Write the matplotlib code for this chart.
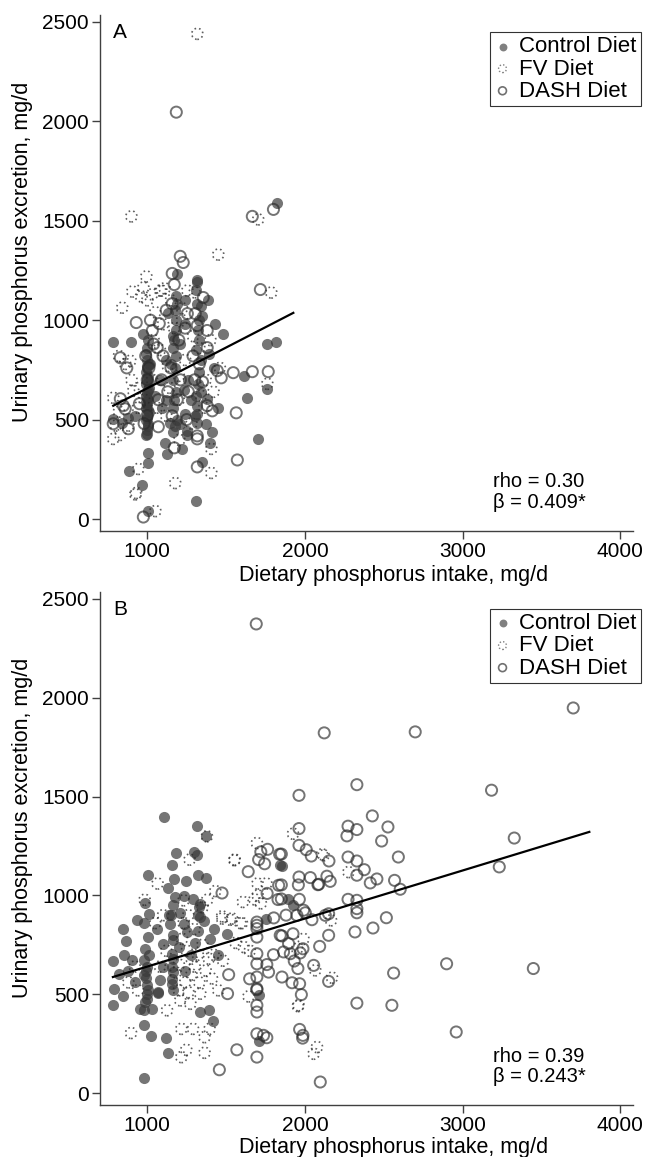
import numpy as np
import matplotlib
matplotlib.use("Agg")
import matplotlib.pyplot as plt

plt.rcParams["font.family"] = ["Liberation Sans", "DejaVu Sans"]

# ── Panel A data (mg/d) ──────────────────────────────────────────────────────
ctrl_a = [
    (784, 892), (899, 892), (1825, 1588), (1190, 1230), (1317, 1200), (1317, 1190),
    (1241, 1099), (1317, 1083), (1387, 1099), (1133, 1038), (1431, 983), (1482, 932),
    (975, 932), (1165, 922), (1241, 983), (1761, 882), (1818, 892), (1615, 721),
    (1761, 655), (1634, 610), (1704, 403), (1349, 287), (1311, 91), (886, 242),
    (968, 171), (1006, 40), (1006, 282), (1006, 333), (1127, 328), (1222, 353),
    (1114, 383), (1412, 438), (1254, 443), (1317, 484), (1317, 529), (1380, 605),
    (1317, 570), (1209, 479), (1146, 484), (1241, 529), (784, 504), (880, 509),
    (841, 484), (995, 420), (1000, 450), (1005, 480), (990, 500), (1000, 520),
    (1010, 540), (995, 560), (1000, 580), (1005, 600), (990, 620), (1000, 640),
    (1010, 660), (995, 680), (1000, 700), (1005, 720), (990, 740), (1000, 760),
    (1010, 780), (1000, 800), (995, 830), (1000, 860), (1005, 900), (1008, 690),
    (992, 590), (1160, 560), (1170, 600), (1180, 640), (1165, 700), (1175, 760),
    (1180, 820), (1165, 860), (1170, 900), (1185, 950), (1175, 1050), (1180, 1120),
    (1160, 440), (1175, 470), (1190, 500), (1310, 620), (1320, 680), (1330, 740),
    (1340, 800), (1310, 850), (1330, 900), (1320, 950), (1350, 1020), (1340, 1070),
    (1050, 620), (1080, 700), (1230, 650), (1260, 700), (1390, 830), (1420, 760),
    (1280, 600), (1095, 560), (1370, 480), (1450, 560), (1020, 780), (1120, 800),
    (1210, 880), (1120, 600), (920, 520), (1400, 380), (1250, 420),
    (1000, 430), (1004, 470), (998, 510), (1002, 550), (996, 610), (1003, 650),
    (999, 710), (1001, 770), (1180, 1000), (1190, 1080), (1330, 1000), (1310, 1150),
    (1150, 780), (1340, 640), (1300, 520),
]
fv_a = [
    (1317, 2440), (899, 1522), (1703, 1507), (1450, 1330), (994, 1220), (905, 1144),
    (975, 1164), (1089, 1149), (1786, 1139), (1082, 1149), (841, 1063), (1254, 1149),
    (1761, 680), (1406, 353), (1406, 232), (1177, 181), (930, 131), (943, 252),
    (1051, 40), (1203, 398), (784, 610), (784, 403), (829, 423), (911, 645),
    (892, 796), (960, 1120), (1000, 1100), (1030, 1130), (1110, 1160), (1150, 1100),
    (1220, 1060), (1300, 1140), (820, 820), (860, 780), (900, 700), (950, 660),
    (1040, 900), (1080, 850), (1130, 770), (1200, 720), (1240, 800), (1290, 920),
    (1330, 860), (1370, 700), (1420, 640), (1360, 560), (1280, 480), (1120, 520),
    (1060, 560), (980, 600), (940, 560), (880, 470), (820, 540), (800, 470),
    (1030, 700), (1170, 960), (1220, 1000), (1100, 980), (1050, 1040), (1340, 620),
    (1200, 600), (1140, 660), (1400, 900), (1460, 760), (924, 124),
]
dash_a = [
    (1184, 2046), (1666, 1522), (1800, 1557), (1209, 1321), (1228, 1290), (1158, 1235),
    (1171, 1179), (1717, 1154), (1355, 1114), (1158, 1083), (1254, 1033), (1304, 1033),
    (930, 988), (1076, 983), (1032, 948), (1380, 948), (1317, 973), (829, 811),
    (1063, 862), (1380, 862), (1444, 746), (1469, 710), (1545, 736), (1666, 741),
    (1767, 741), (1564, 534), (1571, 297), (1317, 262), (975, 10), (1171, 358),
    (1317, 403), (1317, 418), (1412, 544), (1380, 570), (1158, 519), (1070, 464),
    (784, 479), (848, 570), (829, 605), (880, 454), (860, 554), (1000, 700),
    (1010, 760), (990, 820), (1040, 880), (1100, 820), (1150, 760), (1210, 700),
    (1260, 640), (1300, 700), (1130, 640), (1070, 600), (980, 480), (1000, 520),
    (1200, 900), (1240, 960), (1290, 820), (1330, 780), (1090, 700), (1190, 600),
    (1250, 500), (1020, 1000), (1120, 1050), (1350, 690), (870, 760), (950, 580),
]

# ── Panel B data (mg/d) ──────────────────────────────────────────────────────
ctrl_b = [
    (1104, 1397), (1315, 1350), (1374, 1300), (1184, 1215), (1294, 1220), (1315, 1206),
    (1156, 1156), (1002, 1102), (1171, 1085), (1247, 1071), (1321, 1102), (1374, 1090),
    (1131, 1037), (1178, 992), (1230, 995), (983, 962), (1336, 955), (1135, 903),
    (1008, 904), (935, 874), (977, 860), (1332, 891), (1420, 832), (1230, 854),
    (1146, 857), (845, 828), (867, 769), (1002, 789), (1163, 801), (1163, 773),
    (1099, 756), (1252, 815), (1505, 806), (782, 668), (850, 697), (903, 672),
    (977, 672), (987, 730), (1156, 705), (1156, 638), (1156, 578), (1156, 553),
    (1078, 570), (1068, 511), (998, 545), (998, 477), (977, 596), (791, 528),
    (782, 447), (845, 489), (956, 427), (1030, 427), (1336, 410), (1389, 422),
    (1414, 364), (977, 419), (977, 346), (1023, 287), (1119, 278), (1131, 204),
    (977, 77), (1065, 506), (1710, 494), (1710, 263), (1854, 1149), (1894, 983),
    (1924, 950), (1843, 1152), (1755, 883), (1000, 640), (990, 620), (1010, 700),
    (1000, 500), (985, 460), (1160, 520), (1150, 900), (1160, 950), (1240, 620),
    (1280, 700), (1300, 760), (1320, 820), (1290, 980), (1200, 740), (1060, 830),
    (920, 560), (880, 620), (1100, 640), (1210, 910), (1360, 870), (1400, 780),
    (1450, 700), (820, 600), (990, 580), (1005, 520), (1160, 680), (1165, 610),
    (1320, 900), (1330, 940),
]
fv_b = [
    (1378, 1299), (1268, 1181), (1554, 1181), (1065, 1060), (983, 978), (1230, 975),
    (1380, 978), (1606, 967), (1474, 894), (1537, 883), (1590, 860), (1611, 739),
    (1642, 489), (1125, 419), (1209, 469), (1273, 452), (1336, 503), (897, 304),
    (1216, 325), (1290, 325), (1363, 283), (1395, 325), (1247, 219), (1216, 182),
    (1363, 204), (1955, 440), (2055, 199), (2076, 233), (2108, 1208), (2276, 1118),
    (2165, 874), (2065, 621), (2171, 584), (1959, 444), (1695, 1265), (1552, 1178),
    (1755, 1060), (1699, 1060), (1431, 1022), (1474, 883), (1526, 877), (1600, 860),
    (1924, 1312), (2118, 1203), (1220, 780), (1250, 720), (1280, 680), (1300, 640),
    (1320, 700), (1350, 750), (1280, 600), (1240, 560), (1200, 520), (1260, 510),
    (1330, 560), (1370, 620), (1390, 680), (1420, 700), (1200, 650), (1180, 610),
    (1230, 860), (1260, 900), (1300, 830), (1350, 940), (1120, 720), (1100, 900),
    (1050, 860), (920, 640), (880, 560), (940, 520), (1080, 640), (1410, 580),
    (1450, 520), (1480, 670), (1560, 760), (1650, 720), (1700, 1000), (1720, 960),
    (1680, 980), (1950, 730), (1990, 780),
]
dash_b = [
    (1691, 2373), (2122, 1822), (2699, 1827), (3701, 1948), (2329, 1560), (1962, 1506),
    (3183, 1532), (2427, 1402), (1962, 1338), (2273, 1350), (2329, 1333), (2526, 1346),
    (2266, 1301), (2486, 1275), (3327, 1290), (1962, 1253), (2008, 1231), (2040, 1199),
    (1850, 1209), (2152, 1174), (2592, 1194), (2273, 1194), (2329, 1174), (2376, 1130),
    (2329, 1102), (2456, 1083), (2414, 1063), (2568, 1076), (2604, 1031), (3232, 1144),
    (1962, 1093), (2034, 1090), (2082, 1054), (2139, 1097), (2160, 1071), (1958, 1053),
    (1850, 1053), (1850, 982), (1964, 980), (2273, 980), (2329, 975), (2329, 933),
    (2329, 912), (1991, 925), (2002, 912), (1949, 899), (2044, 877), (2129, 899),
    (2150, 907), (2516, 887), (2431, 835), (2317, 815), (2150, 798), (1924, 806),
    (1854, 795), (2093, 742), (1896, 756), (1864, 714), (1907, 705), (1970, 709),
    (1987, 730), (1932, 668), (1955, 630), (1854, 587), (1918, 558), (1966, 553),
    (1977, 498), (2055, 646), (2150, 565), (2562, 607), (2898, 654), (3448, 630),
    (2329, 455), (2551, 444), (1966, 322), (2959, 309), (1987, 292), (1509, 503),
    (1695, 523), (1695, 444), (1695, 410), (1985, 278), (2097, 56), (1695, 300),
    (1737, 292), (1758, 280), (1695, 182), (1568, 219), (1457, 118), (1474, 1012),
    (1695, 849), (1695, 789), (1695, 705), (1695, 654), (1695, 587), (1695, 528),
    (1758, 650), (1769, 612), (1649, 578), (1516, 599), (1763, 1233), (1839, 1208),
    (1706, 1181), (1744, 1160), (1833, 1051), (1829, 979), (1802, 886), (1695, 865),
    (1695, 832), (1843, 798), (2087, 1056), (1640, 1120), (1720, 1220), (1760, 1010),
    (1800, 700), (1880, 900),
]

# regression fits: intercept, slope, x-range
fit_a = (249, 0.409, 784, 1926)
fit_b = (397, 0.243, 782, 3803)

panel_labels = ["A", "B"]
stats_text = [("rho = 0.30", "β = 0.409*"), ("rho = 0.39", "β = 0.243*")]
legend_labels = ["Control Diet", "FV Diet", "DASH Diet"]
x_ticks = [1000, 2000, 3000, 4000]
y_ticks = [0, 500, 1000, 1500, 2000, 2500]

CTRL_COLOR = "#3a3a3a"
OPEN_COLOR = "#2a2a2a"
MS = 64
DOTS = (0, (1.0, 1.8))


def draw_panel(ax, ctrl, fv, dash, fit, label, stats, xlab_y):
    c = np.array(ctrl); f = np.array(fv); d = np.array(dash)
    ax.scatter(c[:, 0], c[:, 1], s=MS, color=CTRL_COLOR, alpha=0.7, linewidths=0, zorder=2)
    ax.scatter(f[:, 0], f[:, 1], s=MS, facecolors="none", edgecolors=OPEN_COLOR, alpha=0.75,
               linewidths=1.2, linestyles=DOTS, zorder=3)
    ax.scatter(d[:, 0], d[:, 1], s=MS, facecolors="none", edgecolors=OPEN_COLOR, alpha=0.65,
               linewidths=1.4, zorder=4)

    b0, b1, x0, x1 = fit
    xs = np.array([x0, x1])
    ax.plot(xs, b0 + b1 * xs, color="black", lw=1.6, zorder=5)

    ax.set_xlim(700, 4080)
    ax.set_ylim(-60, 2535)
    ax.set_xticks(x_ticks)
    ax.set_yticks(y_ticks)
    for s in ["top", "right"]:
        ax.spines[s].set_visible(False)
    for s in ["left", "bottom"]:
        ax.spines[s].set_color("#404040")
        ax.spines[s].set_linewidth(1.0)
    ax.tick_params(length=5.5, width=1.0, color="#404040", labelsize=15, pad=2.5)

    ax.set_xlabel("Dietary phosphorus intake, mg/d", fontsize=15.5)
    ax.set_ylabel("Urinary phosphorus excretion, mg/d", fontsize=15.5)
    ax.xaxis.set_label_coords(0.55, xlab_y)
    ax.yaxis.set_label_coords(-0.126, 0.54)

    ax.text(0.025, 0.985, label, transform=ax.transAxes, fontsize=15, va="top", ha="left")
    ax.text(0.737, 0.095, stats[0], transform=ax.transAxes, fontsize=14.5, va="center", ha="left")
    ax.text(0.737, 0.056, stats[1], transform=ax.transAxes, fontsize=14.5, va="center", ha="left")

    # legend handles with the same marker styles (smaller)
    h1 = ax.scatter([], [], s=32, color="#808080", linewidths=0)
    h2 = ax.scatter([], [], s=32, facecolors="none", edgecolors="#808080",
                    linewidths=1.0, linestyles=(0, (1.0, 1.5)))
    h3 = ax.scatter([], [], s=32, facecolors="none", edgecolors="#707070", linewidths=1.2)
    leg = ax.legend([h1, h2, h3], legend_labels, loc="upper right", bbox_to_anchor=(1.015, 0.967),
                    fontsize=16, frameon=True, fancybox=False, borderpad=0.2,
                    labelspacing=0.05, handlelength=0.7, handletextpad=0.4, borderaxespad=0,
                    scatterpoints=1)
    leg.get_frame().set_edgecolor("black")
    leg.get_frame().set_linewidth(0.8)


fig = plt.figure(figsize=(6.45, 11.57), dpi=100)
ax_a = fig.add_axes([0.155, 0.5411, 0.8264, 0.4460])
ax_b = fig.add_axes([0.155, 0.0450, 0.8264, 0.4434])

draw_panel(ax_a, ctrl_a, fv_a, dash_a, fit_a, panel_labels[0], stats_text[0], -0.066)
draw_panel(ax_b, ctrl_b, fv_b, dash_b, fit_b, panel_labels[1], stats_text[1], -0.063)

fig.savefig("out.png", dpi=100)
